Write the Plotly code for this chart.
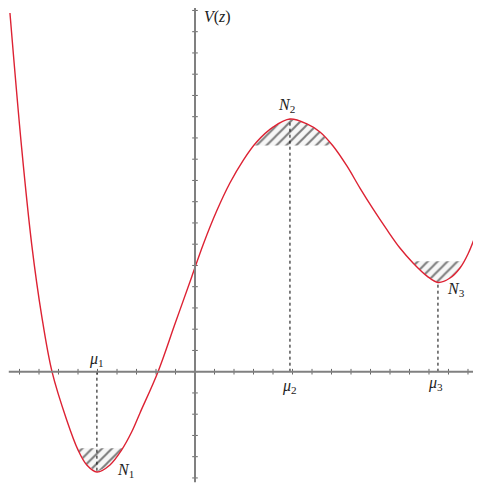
import plotly.graph_objects as go

# potential curve
z = [-9.49, -8.89, -8.37, -7.86, -7.33, -6.58, -6.00, -5.55, -5.03, -4.36, -3.76, -3.25, -2.82,
     -1.90, -1.03, -0.17, 0.43, 1.11, 1.79, 2.48, 3.16, 4.02, 4.87, 5.74, 6.41, 7.08, 7.79,
     8.46, 9.13, 9.85, 10.51, 11.18, 11.90, 12.46, 13.08, 13.59, 14.00, 14.41]
V = [16.88, 10.53, 5.96, 2.62, -0.01, -2.27, -3.68, -4.39, -4.72, -4.39, -3.68, -2.84, -1.94,
     -0.01, 2.24, 4.46, 6.01, 7.56, 8.88, 9.96, 10.81, 11.52, 11.89, 11.66, 11.28, 10.62, 9.68,
     8.64, 7.66, 6.67, 5.82, 5.12, 4.50, 4.20, 4.41, 4.88, 5.54, 6.48]

# extrema mu_i, N_i
mu = [-5.03, 4.87, 12.46]
V_ext = [-4.72, 11.89, 4.20]
mu_labels = ['<i>μ</i><sub>1</sub>', '<i>μ</i><sub>2</sub>', '<i>μ</i><sub>3</sub>']
N_labels = ['<i>N</i><sub>1</sub>', '<i>N</i><sub>2</sub>', '<i>N</i><sub>3</sub>']
hatch_level = [-3.60, 10.65, 5.20]

x_ticks = list(range(-9, 15))
y_ticks = list(range(-5, 18))

gray = '#808080'
fig = go.Figure()


def well(i):
    # piece of the curve cut by the hatch level around extremum i
    lev = hatch_level[i]
    sign = 1 if V_ext[i] > lev else -1
    inside = lambda v: sign * (v - lev) >= 0
    j = z.index(mu[i])
    a = j
    while a > 0 and inside(V[a - 1]):
        a -= 1
    b = j
    while b < len(z) - 1 and inside(V[b + 1]):
        b += 1
    def cross(p, q):
        t = (lev - V[p]) / (V[q] - V[p])
        return z[p] + t * (z[q] - z[p])
    xs = [cross(a - 1, a)] + z[a:b + 1] + [cross(b, b + 1)]
    ys = [lev] + V[a:b + 1] + [lev]
    return xs + [xs[0]], ys + [ys[0]]


for i in range(3):
    hx, hy = well(i)
    fig.add_trace(go.Scatter(x=hx, y=hy, mode='lines', fill='toself', line=dict(width=0),
                             fillcolor='rgba(240,240,240,0.4)',
                             fillpattern=dict(shape='/', size=7, solidity=0.28, fgcolor='#000000',
                                              bgcolor='rgba(240,240,240,0.5)'),
                             hoverinfo='skip'))

# axes
fig.add_shape(type='line', x0=-9.55, x1=14.45, y0=0, y1=0, line=dict(color=gray, width=2))
fig.add_shape(type='line', x0=0, x1=0, y0=-5.2, y1=17.25, line=dict(color=gray, width=2))
fig.add_trace(go.Scatter(x=x_ticks, y=[0] * len(x_ticks), mode='markers',
                         marker=dict(symbol='line-ns', size=4, line=dict(color='#666666', width=1))))
fig.add_trace(go.Scatter(x=[0] * len(y_ticks), y=y_ticks, mode='markers',
                         marker=dict(symbol='line-ew', size=4, line=dict(color='#666666', width=1))))

# dotted drops
dx, dy = [], []
for m, v in zip(mu, V_ext):
    dx += [m, m, None]
    dy += [0, v, None]
fig.add_trace(go.Scatter(x=dx, y=dy, mode='lines', line=dict(color='black', width=1, dash='dot')))

fig.add_trace(go.Scatter(x=z, y=V, mode='lines', line=dict(color='#dd2233', width=1.4, shape='spline'),
                         cliponaxis=False))

font = dict(family='Liberation Serif', size=16, color='#222222')
mu_shift = [(0, 12), (0, -15), (-2, -12)]
N_shift = [(29, 2), (-3, 14), (18, -7)]
for i in range(3):
    fig.add_annotation(x=mu[i], y=0, text=mu_labels[i], showarrow=False, font=font,
                       xshift=mu_shift[i][0], yshift=mu_shift[i][1])
    fig.add_annotation(x=mu[i], y=V_ext[i], text=N_labels[i], showarrow=False, font=font,
                       xshift=N_shift[i][0], yshift=N_shift[i][1])
fig.add_annotation(x=0, y=16.7, text='<i>V</i>(<i>z</i>)', showarrow=False, font=font, xshift=22)
fig.add_annotation(x=1, xref='paper', y=0, text='<i>z</i>', showarrow=False, font=font,
                   xanchor='left', xshift=-4)

# page has an 8px body margin, so the figure is shrunk to fit the window
fig.update_layout(width=473, height=479, margin=dict(l=0, r=0, t=0, b=0),
                  plot_bgcolor='white', paper_bgcolor='white', showlegend=False,
                  xaxis=dict(range=[-9.59, 14.667], visible=False),
                  yaxis=dict(range=[-5.426, 17.115], visible=False))

fig.write_html("out.html")
